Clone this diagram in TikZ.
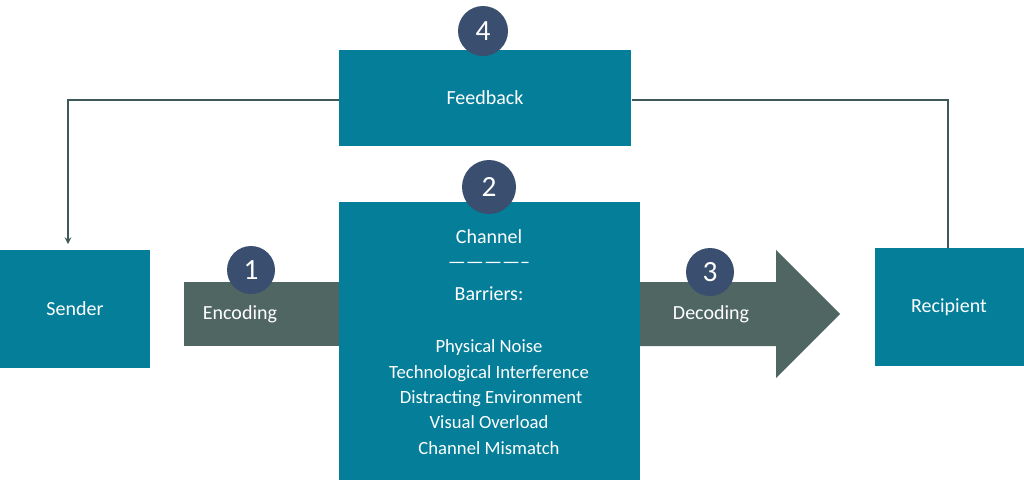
\documentclass[tikz,border=0pt]{standalone}
\usepackage{fontspec}
\setmainfont{Carlito}
\definecolor{teal}{HTML}{057E99}
\definecolor{arr}{HTML}{506663}
\definecolor{navy}{HTML}{3A4E70}
\definecolor{ln}{HTML}{3F5858}
\begin{document}
\begin{tikzpicture}[x=0.75pt,y=-0.75pt,
 box/.style={fill=teal,draw=none},
 num/.style={circle,fill=navy,text=white,inner sep=0pt,font=\fontsize{22}{22}\selectfont},
 lbl/.style={text=white,font=\fontsize{15}{18}\selectfont},
 small/.style={text=white,font=\fontsize{14}{19}\selectfont,align=center},
 fb/.style={draw=ln,line width=1.2pt}]
\useasboundingbox (0,0) rectangle (1024,480);
\fill[arr] (184,282) rectangle (340,346);
\fill[arr] (639,282) -- (776,282) -- (776,250) -- (840,314) -- (776,378) -- (776,346) -- (639,346) -- cycle;
\node[box,minimum width=150*0.75pt,minimum height=118*0.75pt,anchor=north west] (s) at (0,250) {};
\node[lbl] at (75,309) {Sender};
\node[box,minimum width=149*0.75pt,minimum height=118*0.75pt,anchor=north west] (r) at (875,248) {};
\node[lbl] at (949,307) {Recipient};
\node[box,minimum width=292*0.75pt,minimum height=96*0.75pt,anchor=north west] (f) at (339,50) {};
\node[lbl] at (485,98) {Feedback};
\node[box,minimum width=301*0.75pt,minimum height=278*0.75pt,anchor=north west] (c) at (339,202) {};
\node[lbl] at (489,237) {Channel};
\node[lbl] at (489,265) {--------------};
\node[lbl] at (489,294) {Barriers:};
\node[small] at (489,397) {Physical Noise\\Technological Interference\\\ Distracting Environment\\Visual Overload\\Channel Mismatch};
\node[lbl] at (240,314) {Encoding};
\node[lbl] at (711,314) {Decoding};
\node[num,minimum size=48*0.75pt] (n1) at (251,270) {1};
\node[num,minimum size=54*0.75pt] (n2) at (489,187) {2};
\node[num,minimum size=48*0.75pt] (n3) at (710,272) {3};
\node[num,minimum size=50*0.75pt] (n4) at (483,31) {4};
\coordinate (a) at (68,100); \coordinate (sa) at (68,244);
\coordinate (b) at (948,100); \coordinate (rb) at (948,248);
\draw[fb,-stealth] (f.west |- a) -- (a) -- (sa);
\draw[fb] (f.east |- b) -- (b) -- (rb);
\end{tikzpicture}
\end{document}
